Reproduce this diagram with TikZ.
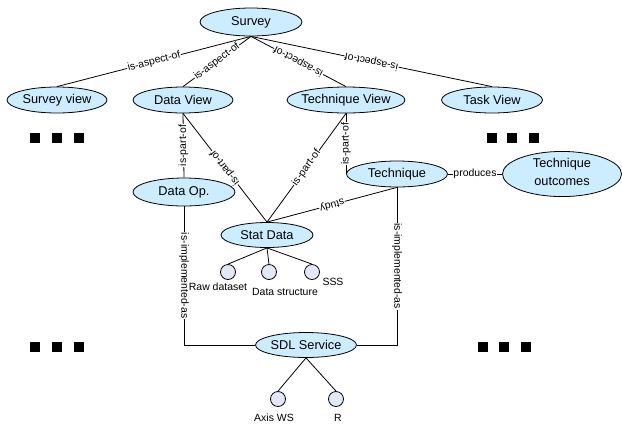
\documentclass[tikz,border=0pt]{standalone}
\usepackage{fontspec}
\setmainfont{Liberation Sans}
\usetikzlibrary{shapes.geometric}
\definecolor{nodeblue}{RGB}{204,236,255}
\definecolor{circfill}{RGB}{226,232,246}
\newcommand{\ctext}[1]{\makebox[0pt]{#1}}
\begin{document}
\begin{tikzpicture}[x=1bp,y=-1bp,
  every node/.style={font=\fontsize{12.8}{14}\selectfont},
  concept/.style={ellipse, draw=black, line width=0.8bp, fill=nodeblue, inner sep=0pt},
  lbl/.style={font=\fontsize{10.5}{12}\selectfont, fill=white, inner sep=0.6bp},
  leaf/.style={circle, draw=black, line width=0.8bp, fill=circfill, minimum size=15bp, inner sep=0pt},
  leaftext/.style={font=\fontsize{10.5}{12}\selectfont, inner sep=0pt},
  conn/.style={line width=0.8bp},
  dotsq/.style={fill=black}]
\useasboundingbox (0,0) rectangle (622,427);

% concept nodes
\node[concept, minimum width=102bp, minimum height=28bp] (survey) at (251,22) {\ctext{Survey}};
\node[concept, minimum width=100bp, minimum height=26bp] (sv) at (57,100) {\ctext{Survey view}};
\node[concept, minimum width=100bp, minimum height=26bp] (dv) at (183,100) {\ctext{Data View}};
\node[concept, minimum width=118bp, minimum height=26bp] (tv) at (346,100) {\ctext{Technique View}};
\node[concept, minimum width=101bp, minimum height=26bp] (task) at (492,100) {\ctext{Task View}};
\node[concept, minimum width=102bp, minimum height=28bp] (dop) at (184,192) {\ctext{Data Op.}};
\node[concept, minimum width=101bp, minimum height=26bp] (tq) at (397,174) {\ctext{Technique}};
\node[concept, minimum width=119bp, minimum height=37bp] (to) at (562,174)
  {\ctext{\begin{tabular}{@{}c@{}}Technique\\[4bp]outcomes\end{tabular}}};
\node[concept, minimum width=92bp, minimum height=25bp] (sd) at (267,235) {\ctext{Stat Data}};
\node[concept, minimum width=101bp, minimum height=25bp] (sdl) at (306,345) {\ctext{SDL Service}};

% connectors
\draw[conn] (survey.south) -- node[lbl, rotate=14.7] {is-aspect-of} (sv.north);
\draw[conn] (survey.south) -- node[lbl, rotate=36.9] {is-aspect-of} (dv.north);
\draw[conn] (survey.south) -- node[lbl, rotate=151.8] {is-aspect-of} (tv.north);
\draw[conn] (survey.south) -- node[lbl, rotate=168.1] {is-aspect-of} (task.north);
\draw[conn] (dv.south) -- node[lbl, rotate=90] {is-part-of} (dop.north);
\draw[conn] (dv.south) -- node[lbl, rotate=127.6] {is-part-of} (sd.north);
\draw[conn] (tv.south) -- node[lbl, rotate=54.1] {is-part-of} (sd.north);
\coordinate (tqin) at (tv.south |- tq.west);
\draw[conn] (tv.south) -- node[lbl, rotate=90] {is-part-of} (tqin);
\draw[conn] (tq.south) -- node[lbl, rotate=195.1] {study} (sd.north);
\draw[conn] (tq.east) -- node[lbl] {produces} (to.west);
\draw[conn] (dop.south) |- node[lbl, rotate=-90, pos=0.25] {is-implemented-as} (sdl.west);
\draw[conn] (tq.south) |- node[lbl, rotate=-90, pos=0.25] {is-implemented-as} (sdl.east);

% leaves of Stat Data
\node[leaf] (c1) at (228,272) {};
\node[leaf] (c2) at (269,272) {};
\node[leaf] (c3) at (312,272) {};
\draw[conn] (sd.south) -- (c1.north);
\draw[conn] (sd.south) -- (c2.north);
\draw[conn] (sd.south) -- (c3.north);
\node[leaftext] (l1) at (218,287) {Raw dataset};
\node[leaftext] (l2) at (285,292) {Data structure};
\node[leaftext] (l3) at (333,282) {SSS};

% leaves of SDL Service
\node[leaf] (c4) at (278,399) {};
\node[leaf] (c5) at (336,399) {};
\draw[conn] (sdl.south) -- (c4.north);
\draw[conn] (sdl.south) -- (c5.north);
\node[leaftext] (l4) at (274,418) {Axis WS};
\node[leaftext] (l5) at (338,418) {R};

% ellipsis squares
\foreach \x in {30,52,74} {\fill[dotsq] (\x,133) rectangle ++(10,10);}
\foreach \x in {487,507,529} {\fill[dotsq] (\x,133) rectangle ++(10,10);}
\foreach \x in {30,52,74} {\fill[dotsq] (\x,342) rectangle ++(10,10);}
\foreach \x in {478,499,521} {\fill[dotsq] (\x,342) rectangle ++(10,10);}
\end{tikzpicture}
\end{document}
